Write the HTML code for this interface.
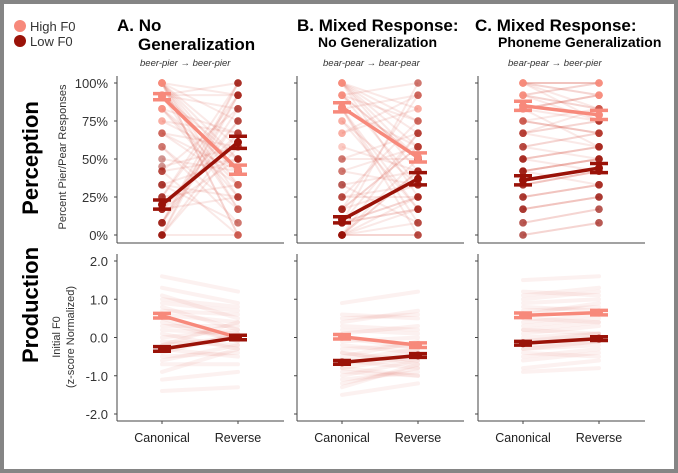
<!DOCTYPE html>
<html><head><meta charset="utf-8"><style>
body{margin:0;background:#fff}
#wrap{position:relative;width:678px;height:473px;box-sizing:border-box;border:4px solid #858585;background:#fff;overflow:hidden}
svg{position:absolute;left:-4px;top:-4px}
text{font-family:"Liberation Sans",sans-serif}
</style></head><body>
<div id="wrap">
<svg id="fig" width="678" height="473"></svg>
</div>
<script>
const panels=['A','B','C'];
const perceptionMeans={A:{high:[91,43],low:[20,61]},B:{high:[84,51],low:[10,37]},C:{high:[85,79],low:[36,44]}};
const perceptionSE={A:{high:[2,3],low:[3,4]},B:{high:[3,3],low:[2,4]},C:{high:[3,3],low:[3,3]}};
const productionMeans={A:{high:[0.57,0.0],low:[-0.3,0.0]},B:{high:[0.02,-0.2],low:[-0.65,-0.47]},C:{high:[0.58,0.65],low:[-0.15,-0.03]}};
const productionSE={A:{high:[0.06,0.06],low:[0.06,0.06]},B:{high:[0.06,0.06],low:[0.05,0.05]},C:{high:[0.06,0.06],low:[0.05,0.05]}};
const percHighCanon={A:[100,92,83,100,100,92,75,67,100,83,92,100,58,100,92,83,75,100,100,42,92,100,83,67,100],B:[100,92,83,75,100,58,92,83,67,100,50,92,83,100,75,42,92,100,83,67,92,100,25,83,100],C:[100,92,83,100,75,92,83,67,100,58,92,100,75,83,50,100,92,67,83,100,92,42,75,100,83]};
const percHighRev={A:[0,50,33,92,25,17,67,58,0,42,83,75,8,33,100,25,50,58,42,0,92,17,67,33,50],B:[58,33,92,17,75,42,50,0,83,25,67,100,8,50,33,58,75,42,17,92,50,67,25,58,83],C:[100,83,92,75,67,100,58,83,92,50,75,100,67,92,42,100,83,58,75,92,100,33,67,83,92]};
const percLowCanon={A:[0,8,17,25,33,0,42,50,17,8,25,58,0,33,17,0,45,8,25,67,0,17,33,8,42],B:[0,8,17,0,25,0,8,33,0,17,8,0,42,25,0,8,17,0,33,8,0,17,50,0,8],C:[0,25,42,58,8,33,50,17,67,42,25,0,75,33,58,17,50,42,8,25,67,33,50,17,42]};
const percLowRev={A:[100,75,50,92,25,58,83,42,67,100,33,17,92,50,75,0,58,83,100,42,67,25,8,92,50],B:[42,17,58,0,33,67,25,8,50,92,17,42,33,75,0,25,58,8,42,100,17,33,50,25,67],C:[8,33,50,67,17,42,58,25,75,50,33,8,83,42,67,25,58,50,17,33,75,42,58,25,50]};
const prodCanon={A:[1.6,1.3,1.1,0.9,0.8,0.6,0.5,0.3,0.2,0.1,0,-0.1,-0.2,-0.3,-0.4,-0.5,-0.6,-0.7,-0.9,-1.1,-1.4,0.7,0.4,-0.2,1.0],B:[0.9,0.6,0.4,0.2,0.1,0,-0.1,-0.3,-0.4,-0.5,-0.6,-0.7,-0.8,-0.9,-1.0,-1.1,-1.3,-1.5,0.3,-0.2,-0.6,-0.8,0.5,-0.4,-1.2],C:[1.5,1.2,1.0,0.8,0.6,0.5,0.3,0.2,0.1,0,-0.1,-0.2,-0.3,-0.4,-0.5,-0.6,-0.8,-0.9,0.7,0.4,-0.1,0.9,1.1,-0.3,0.2]};
const prodRev={A:[1.2,0.9,0.5,0.7,0.2,0.4,-0.1,0.3,0.1,-0.3,0.2,-0.2,0.0,-0.5,0.1,-0.4,-0.2,-0.7,-0.3,-0.9,-1.3,0.6,-0.1,0.4,0.8],B:[1.2,0.5,0.7,0.1,0.3,-0.3,0.0,-0.2,-0.6,-0.1,-0.8,-0.4,-0.5,-1.0,-0.6,-0.9,-0.7,-1.2,0.2,-0.4,-0.3,-1.0,0.6,-0.7,-0.8],C:[1.6,1.1,1.2,0.7,0.9,0.4,0.5,0.1,0.3,0.1,0.0,-0.1,-0.2,-0.5,-0.3,-0.4,-0.6,-0.8,0.8,0.6,0.1,1.0,1.3,-0.1,0.4]};
const percTicks=['0%','25%','50%','75%','100%'];
const prodTicks=['-2.0','-1.0','0.0','1.0','2.0'];
const conditions=['Canonical','Reverse'];

const NS='http://www.w3.org/2000/svg';
const svg=document.getElementById('fig');
function el(tag,attrs,parent,txt){const e=document.createElementNS(NS,tag);for(const k in attrs)e.setAttribute(k,attrs[k]);if(txt!==undefined)e.textContent=txt;(parent||svg).appendChild(e);return e;}
const HI='#f7897b',LO='#9a1208';
const panelX={A:117,B:297,C:478};const PW=167;
const xPos=(p,i)=>panelX[p]+(i===0?45:121);
const yPerc=v=>235-v/100*152;
const yProd=v=>337.5-v*38.25;

let g=el('g',{});
el('circle',{cx:20,cy:26,r:6,fill:HI},g);el('text',{x:30,y:31,'font-size':13,fill:'#333'},g,'High F0');
el('circle',{cx:20,cy:41,r:6,fill:LO},g);el('text',{x:30,y:46,'font-size':13,fill:'#333'},g,'Low F0');

let t=el('text',{x:0,y:0,'font-size':22,'font-weight':'bold','text-anchor':'middle',transform:'translate(38,158) rotate(-90)'},svg,'Perception');

t=el('text',{x:0,y:0,'font-size':22,'font-weight':'bold','text-anchor':'middle',transform:'translate(38,305) rotate(-90)'},svg,'Production');

t=el('text',{x:0,y:0,'font-size':11,fill:'#333','text-anchor':'middle',transform:'translate(66,157) rotate(-90)'},svg,'Percent Pier/Pear Responses');

t=el('text',{x:0,y:0,'font-size':11,fill:'#333','text-anchor':'middle',transform:'translate(60,337) rotate(-90)'},svg,'Initial F0');

t=el('text',{x:0,y:0,'font-size':11,fill:'#333','text-anchor':'middle',transform:'translate(74,337) rotate(-90)'},svg,'(z-score Normalized)');


const titles={A:[['A. No',117,31,17],['Generalization',138,50,17]],B:[['B. Mixed Response:',297,31,17],['No Generalization',318,47,14]],C:[['C. Mixed Response:',475,31,17],['Phoneme Generalization',498,47,14]]};
const subs={A:'beer-pier \u2192 beer-pier',B:'bear-pear \u2192 bear-pear',C:'bear-pear \u2192 beer-pier'};
const subX={A:140,B:323,C:508};
panels.forEach(p=>{
  titles[p].forEach((d,i)=>{const e=el('text',{x:d[1],y:d[2],'font-size':d[3],'font-weight':'bold'},svg,d[0]);
    });
  const s=el('text',{x:subX[p],y:66,'font-size':9.5,'font-style':'italic',fill:'#333'},svg,subs[p]);
  
});

function errbar(p,means,se,yf,color,name){
  const gg=el('g',{});
  el('line',{x1:xPos(p,0),y1:yf(means[0]),x2:xPos(p,1),y2:yf(means[1]),stroke:color,'stroke-width':3.5},gg);
  [0,1].forEach(i=>{const x=xPos(p,i);const m=means[i],s=se[i];
    el('line',{x1:x,x2:x,y1:yf(m-s),y2:yf(m+s),stroke:color,'stroke-width':3},gg);
    [m-s,m+s].forEach(v=>el('line',{x1:x-9,x2:x+9,y1:yf(v),y2:yf(v),stroke:color,'stroke-width':3.5},gg));
    el('circle',{cx:x,cy:yf(m),r:4,fill:color},gg);
  });
}

panels.forEach(p=>{
  const x0=panelX[p];
  let ax=el('g',{});
  el('line',{x1:x0,y1:76,x2:x0,y2:243,stroke:'#444','stroke-width':1},ax);
  el('line',{x1:x0,y1:243,x2:x0+PW,y2:243,stroke:'#444','stroke-width':1},ax);
  percTicks.forEach((lab,i)=>{const y=yPerc(i*25);el('line',{x1:x0-3,x2:x0,y1:y,y2:y,stroke:'#444'},ax);
    if(p==='A')el('text',{x:x0-9,y:y+5,'font-size':13,fill:'#333','text-anchor':'end'},ax,lab);});
  let lg=el('g',{});
  [[percHighCanon,percHighRev],[percLowCanon,percLowRev]].forEach(([c,r])=>{
    c[p].forEach((v,i)=>{el('line',{x1:xPos(p,0),y1:yPerc(v),x2:xPos(p,1),y2:yPerc(r[p][i]),stroke:'#d9483c','stroke-opacity':0.12,'stroke-width':2},lg);});
  });
  [[percHighCanon,0,HI],[percHighRev,1,HI],[percLowCanon,0,LO],[percLowRev,1,LO]].forEach(([arr,i,col])=>{
    arr[p].forEach(v=>el('circle',{cx:xPos(p,i),cy:yPerc(v),r:3.8,fill:col,'fill-opacity':0.45},lg));
  });
  errbar(p,perceptionMeans[p].high,perceptionSE[p].high,yPerc,HI,'perception-high-f0-'+p.toLowerCase());
  errbar(p,perceptionMeans[p].low,perceptionSE[p].low,yPerc,LO,'perception-low-f0-'+p.toLowerCase());

  ax=el('g',{});
  el('line',{x1:x0,y1:254,x2:x0,y2:421,stroke:'#444'},ax);
  el('line',{x1:x0,y1:421,x2:x0+PW,y2:421,stroke:'#444'},ax);
  prodTicks.forEach((lab,i)=>{const y=yProd(i-2);el('line',{x1:x0-3,x2:x0,y1:y,y2:y,stroke:'#444'},ax);
    if(p==='A')el('text',{x:x0-9,y:y+5,'font-size':13,fill:'#333','text-anchor':'end'},ax,lab);});
  conditions.forEach((c,i)=>{const x=xPos(p,i);el('line',{x1:x,x2:x,y1:421,y2:424,stroke:'#444'},ax);
    el('text',{x:x,y:442,'font-size':12.5,fill:'#222','text-anchor':'middle'},ax,c);});
  lg=el('g',{});
  prodCanon[p].forEach((v,i)=>{el('line',{x1:xPos(p,0),y1:yProd(v),x2:xPos(p,1),y2:yProd(prodRev[p][i]),stroke:'#d9483c','stroke-opacity':0.08,'stroke-width':4,'stroke-linecap':'round'},lg);});
  errbar(p,productionMeans[p].high,productionSE[p].high,yProd,HI,'production-high-f0-'+p.toLowerCase());
  errbar(p,productionMeans[p].low,productionSE[p].low,yProd,LO,'production-low-f0-'+p.toLowerCase());
});
</script>
</body></html>
